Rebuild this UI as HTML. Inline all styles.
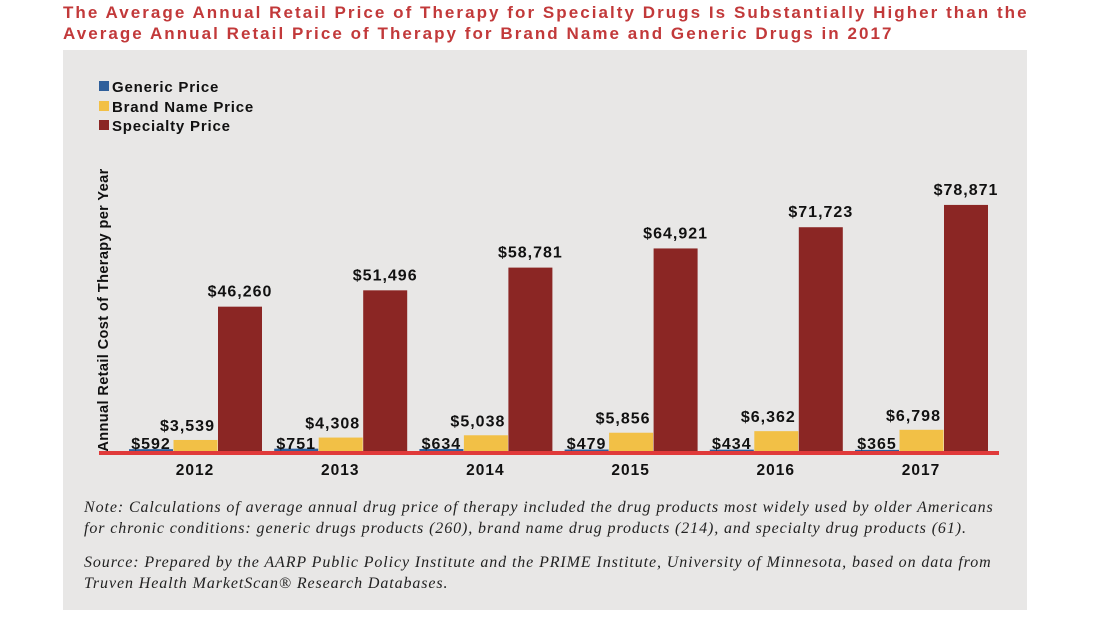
<!DOCTYPE html>
<html><head><meta charset="utf-8"><style>
body{margin:0;background:#fff;width:1116px;height:626px;overflow:hidden;font-family:"Liberation Sans",sans-serif}
#title{position:absolute;left:63px;top:2px;color:#c2393a;font-weight:bold;font-size:17px;letter-spacing:2.05px;line-height:21px;white-space:nowrap}
#panel{position:absolute;left:63px;top:50px;width:964px;height:560px;background:#e8e7e6}
.note{position:absolute;left:84px;font-family:"Liberation Serif",serif;font-style:italic;font-size:16px;letter-spacing:0.9px;line-height:21px;color:#222;white-space:nowrap}
</style></head><body>
<div id="title">The Average Annual Retail Price of Therapy for Specialty Drugs Is Substantially Higher than the<br>Average Annual Retail Price of Therapy for Brand Name and Generic Drugs in 2017</div>
<div id="panel"></div>
<svg id="chart" width="1116" height="626" style="position:absolute;left:0;top:0">
<g letter-spacing="0.8">
<rect x="99" y="81" width="10" height="10" fill="#2f5f9b"/><text x="112" y="92" font-size="15" font-weight="bold" fill="#111">Generic Price</text>
<rect x="99" y="101" width="10" height="10" fill="#f2c046"/><text x="112" y="112" font-size="15" font-weight="bold" fill="#111">Brand Name Price</text>
<rect x="99" y="120" width="10" height="10" fill="#8b2624"/><text x="112" y="131" font-size="15" font-weight="bold" fill="#111">Specialty Price</text>
</g>
<text transform="translate(108,310) rotate(-90)" text-anchor="middle" font-size="14.5" font-weight="bold" letter-spacing="0.4" fill="#111">Annual Retail Cost of Therapy per Year</text>
<g id="bars"></g>
<rect x="99" y="451" width="900" height="4" fill="#e03a3a"/>
</svg>
<div class="note" style="top:497px">Note: Calculations of average annual drug price of therapy included the drug products most widely used by older Americans<br>for chronic conditions: generic drugs products (260), brand name drug products (214), and specialty drug products (61).</div>
<div class="note" style="top:552px">Source: Prepared by the AARP Public Policy Institute and the PRIME Institute, University of Minnesota, based on data from<br>Truven Health MarketScan® Research Databases.</div>
<script>
const years=["2012","2013","2014","2015","2016","2017"];
const generic=[592,751,634,479,434,365];
const brand=[3539,4308,5038,5856,6362,6798];
const specialty=[46260,51496,58781,64921,71723,78871];
const ns="http://www.w3.org/2000/svg";
const g=document.getElementById("bars");
const base=451, k=0.00312;
const y=v=>base-v*k;
const gx=i=>129+i*145.2;
const fmt=v=>"$"+v.toLocaleString("en-US");
function mk(tag,attrs){const e=document.createElementNS(ns,tag);for(const a in attrs)e.setAttribute(a,attrs[a]);g.appendChild(e);return e;}
const series=[[generic,"#2f5f9b","generic"],[brand,"#f2c046","brand"],[specialty,"#8b2624","specialty"]];
years.forEach((yr,i)=>{
 series.forEach(([arr,col,nm],j)=>{
  const x=gx(i)+j*44.5, v=arr[i];
  const r=mk("rect",{x:x,y:y(v),width:44,height:base-y(v),fill:col});
  
  
  const t=mk("text",{x:x+22+(j==1?-8:0),y:(j==1?y(v)-9:y(v)-10),"text-anchor":"middle","font-size":"16","font-weight":"bold","letter-spacing":"1",fill:"#111"});
  if(j==0){t.setAttribute("x",x+22);t.setAttribute("y",base-2);}
  t.textContent=fmt(v);
  
  
 });
 const t=mk("text",{x:gx(i)+66,y:475,"text-anchor":"middle","font-size":"15.5","font-weight":"bold","letter-spacing":"1",fill:"#111"});
 t.textContent=yr;
 
 
});
</script>
</body></html>
